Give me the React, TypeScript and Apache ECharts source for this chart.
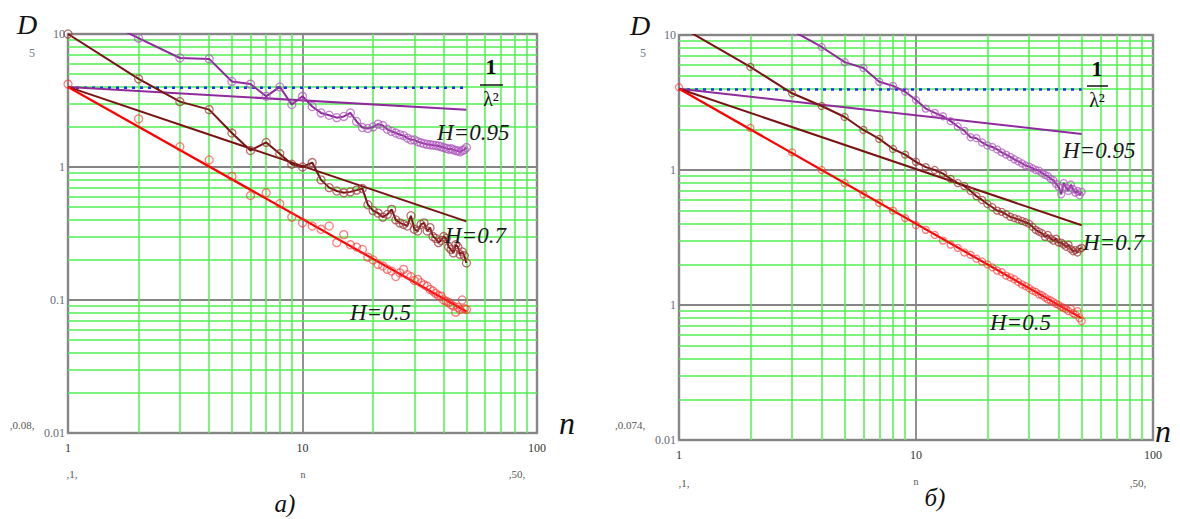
import React, { useEffect, useRef } from "react";
import * as echarts from "echarts";

// ---------- data ----------
const N = [1, 2, 3, 4, 5, 6, 7, 8, 9, 10, 11, 12, 13, 14, 15, 16, 17, 18, 19, 20,
  21, 22, 23, 24, 25, 26, 27, 28, 29, 30, 31, 32, 33, 34, 35, 36, 37, 38, 39, 40,
  41, 42, 43, 44, 45, 46, 47, 48, 49, 50];

// panel a)
const A_H05 = [4.2, 2.3, 1.42, 1.13, 0.85, 0.61, 0.64, 0.53, 0.42, 0.38,
  0.36, 0.34, 0.36, 0.27, 0.31, 0.26, 0.25, 0.24, 0.21, 0.2,
  0.185, 0.18, 0.17, 0.165, 0.15, 0.16, 0.17, 0.155, 0.15, 0.14,
  0.143, 0.135, 0.13, 0.127, 0.12, 0.117, 0.112, 0.108, 0.107, 0.1,
  0.098, 0.096, 0.092, 0.09, 0.081, 0.088, 0.085, 0.1, 0.086, 0.085];
const A_H07 = [10, 4.6, 3.1, 2.7, 1.8, 1.33, 1.53, 1.26, 1.05, 1.0,
  1.08, 0.8, 0.7, 0.66, 0.64, 0.65, 0.67, 0.69, 0.52, 0.47,
  0.45, 0.42, 0.44, 0.48, 0.4, 0.38, 0.37, 0.36, 0.43, 0.34,
  0.33, 0.37, 0.38, 0.33, 0.35, 0.3, 0.29, 0.27, 0.28, 0.3,
  0.29, 0.25, 0.24, 0.226, 0.26, 0.25, 0.22, 0.23, 0.215, 0.19];
const A_H095 = [17, 9.3, 6.6, 6.5, 4.4, 4.2, 3.4, 4.0, 2.95, 3.4,
  2.85, 2.55, 2.45, 2.35, 2.4, 2.55, 2.2, 1.98, 1.95, 2.0,
  2.1, 2.05, 1.92, 1.85, 1.8, 1.75, 1.72, 1.65, 1.6, 1.6,
  1.55, 1.52, 1.5, 1.48, 1.47, 1.46, 1.45, 1.44, 1.42, 1.4,
  1.38, 1.36, 1.37, 1.35, 1.33, 1.32, 1.3, 1.33, 1.35, 1.4];

// panel б)
const B_H05 = [4.1, 2.05, 1.35, 1.0, 0.8, 0.66, 0.57, 0.5, 0.44, 0.39,
  0.36, 0.33, 0.3, 0.28, 0.265, 0.245, 0.235, 0.22, 0.21, 0.2,
  0.19, 0.18, 0.175, 0.165, 0.16, 0.155, 0.148, 0.142, 0.138, 0.133,
  0.128, 0.125, 0.12, 0.118, 0.114, 0.11, 0.108, 0.105, 0.102, 0.1,
  0.097, 0.095, 0.093, 0.09, 0.094, 0.087, 0.085, 0.09, 0.08, 0.076];
const B_H07 = [11.7, 5.8, 3.7, 2.98, 2.47, 1.98, 1.7, 1.43, 1.3, 1.15,
  1.05, 1.0, 0.94, 0.86, 0.8, 0.76, 0.7, 0.64, 0.6, 0.56,
  0.53, 0.5, 0.49, 0.47, 0.45, 0.44, 0.43, 0.42, 0.41, 0.4,
  0.38, 0.36, 0.35, 0.34, 0.32, 0.33, 0.31, 0.3, 0.31, 0.29,
  0.29, 0.28, 0.27, 0.28, 0.26, 0.25, 0.255, 0.245, 0.26, 0.265];
const B_H095 = [22, 15, 10.8, 8.15, 6.3, 5.7, 4.5, 4.2, 3.8, 3.3,
  2.85, 2.65, 2.5, 2.3, 2.1, 1.95, 1.75, 1.72, 1.6, 1.52,
  1.48, 1.42, 1.35, 1.3, 1.25, 1.2, 1.16, 1.12, 1.08, 1.06,
  1.03, 1.0, 0.99, 0.95, 0.92, 0.9, 0.86, 0.84, 0.79, 0.75,
  0.66, 0.8, 0.74, 0.7, 0.78, 0.72, 0.68, 0.7, 0.65, 0.69];

// fitted straight lines (endpoints at n = 1 and n = 50)
const FIT_N = [1, 50];
const A_FIT_H05 = [4, 0.082];
const A_FIT_H07 = [4, 0.39];
const A_FIT_H095 = [4, 2.69];
const B_FIT_H05 = [4, 0.08];
const B_FIT_H07 = [4, 0.39];
const B_FIT_H095 = [4, 1.85];
const INV_LAMBDA2 = [3.95, 3.95];

// ticks
const X_MINOR = [2, 3, 4, 5, 6, 7, 8, 9, 20, 30, 40, 50, 60, 70, 80, 90];
const Y_MINOR = [0.02, 0.03, 0.04, 0.05, 0.06, 0.07, 0.08, 0.09,
  0.2, 0.3, 0.4, 0.5, 0.6, 0.7, 0.8, 0.9, 2, 3, 4, 5, 6, 7, 8, 9];
const X_TICKS = ["1", "10", "100"];
const Y_TICKS_A = ["0.01", "0.1", "1", "10"];
const Y_TICKS_B = ["0.01", "1", "1", "10"];

// ---------- style ----------
const SERIF = "Liberation Serif";
const GREEN = "#52ee52";
const RED = "#ff0000";
const BROWN = "#7a1212";
const PURPLE = "#8f2a9c";
const BLUE = "#1b2dff";

const pairs = (xs: number[], ys: number[]) => ys.map((y, i) => [xs[i], y]);

function panelSeries(gi: number, h05: number[], h07: number[], h095: number[],
  f05: number[], f07: number[], f095: number[], ms: number) {
  const ax = { xAxisIndex: gi, yAxisIndex: gi };
  return [
    {
      ...ax, type: "line", data: [], z: 1, silent: true,
      markLine: {
        z: 1, silent: true, symbol: ["none", "none"], label: { show: false },
        lineStyle: { color: GREEN, width: 1.5, type: "solid" },
        emphasis: { disabled: true },
        data: [...X_MINOR.map((v) => ({ xAxis: v })), ...Y_MINOR.map((v) => ({ yAxis: v }))],
      },
    },
    { ...ax, type: "line", data: pairs(FIT_N, INV_LAMBDA2), symbol: "none", z: 3,
      lineStyle: { color: BLUE, width: 2.5, type: [3, 5] } },
    { ...ax, type: "line", data: pairs(FIT_N, f095), symbol: "none", z: 3,
      lineStyle: { color: PURPLE, width: 2 } },
    { ...ax, type: "line", data: pairs(FIT_N, f07), symbol: "none", z: 3,
      lineStyle: { color: BROWN, width: 2 } },
    { ...ax, type: "line", data: pairs(FIT_N, f05), symbol: "none", z: 3,
      lineStyle: { color: RED, width: 2.2 } },
    { ...ax, type: "scatter", data: pairs(N, h05), symbol: "circle", symbolSize: ms, z: 4,
      itemStyle: { color: "rgba(0,0,0,0)", borderColor: "rgba(255,50,50,0.8)", borderWidth: 1.3 } },
    { ...ax, type: "line", data: pairs(N, h07), symbol: "circle", showSymbol: true, symbolSize: ms, z: 4,
      itemStyle: { color: "rgba(0,0,0,0)", borderColor: "rgba(160,60,60,0.75)", borderWidth: 1.3 },
      lineStyle: { color: BROWN, width: 2 } },
    { ...ax, type: "line", data: pairs(N, h095), symbol: "circle", showSymbol: true, symbolSize: ms, z: 4,
      itemStyle: { color: "rgba(0,0,0,0)", borderColor: "rgba(175,90,190,0.75)", borderWidth: 1.3 },
      lineStyle: { color: PURPLE, width: 2 } },
  ];
}

function xAxisCfg(gi: number) {
  return {
    type: "log", logBase: 10, gridIndex: gi, min: 1, max: 100,
    axisLine: { show: false }, axisTick: { show: false },
    splitLine: { show: true, lineStyle: { color: "#858585", width: 1.8 } },
    axisLabel: { color: "#333", fontFamily: SERIF, fontSize: 12, margin: 9,
      showMinLabel: true, showMaxLabel: true,
      formatter: (_v: number, i: number) => X_TICKS[i] },
  };
}
function yAxisCfg(gi: number, labels: string[]) {
  return {
    type: "log", logBase: 10, gridIndex: gi, min: 0.01, max: 10,
    axisLine: { show: false }, axisTick: { show: false },
    splitLine: { show: true, lineStyle: { color: "#858585", width: 1.8 } },
    axisLabel: { color: "#666a78", fontFamily: SERIF, fontSize: 12, margin: 3,
      showMinLabel: true, showMaxLabel: true,
      formatter: (_v: number, i: number) => labels[i] },
  };
}

function txt(x: number, y: number, text: string, size: number, opts: any = {}) {
  const align = opts.align || "center";
  return { type: "text", x, y, z: 10, silent: true,
    style: { text, fontFamily: SERIF, fontSize: size, fontStyle: opts.italic ? "italic" : "normal",
      fontWeight: opts.bold ? "bold" : "normal", fill: opts.fill || "#111",
      textAlign: align, textVerticalAlign: "middle", align, verticalAlign: "middle" } };
}
function bar(x1: number, x2: number, y: number) {
  return { type: "line", z: 10, silent: true, shape: { x1, y1: y, x2, y2: y }, style: { stroke: "#111", lineWidth: 1.5 } };
}

const IT = { italic: true };
const HL = { italic: true, align: "left", fill: "#1a1a1a" };
const GR = { fill: "#555" };

const graphics = [
  // panel a)
  txt(27, 24, "D", 28, IT),
  txt(32, 53, "5", 12, { fill: "#6d7a8c" }),
  txt(22, 425, ",0.08,", 11, GR),
  txt(567, 423, "n", 32, IT),
  txt(72, 474, ",1,", 11, GR),
  txt(303, 474, "n", 10, GR),
  txt(517, 474, ",50,", 11, GR),
  txt(285, 503, "а)", 25, IT),
  txt(437, 132, "H=0.95", 23, HL),
  txt(445, 235, "H=0.7", 23, HL),
  txt(350, 312, "H=0.5", 23, HL),
  txt(491, 66, "1", 22, { bold: true }),
  bar(480, 503, 85),
  txt(491, 99, "λ²", 20),
  // panel б)
  txt(640, 25, "D", 28, IT),
  txt(643, 53, "5", 12, { fill: "#6d7a8c" }),
  txt(630, 425, ",0.074,", 11, GR),
  txt(1163, 431, "n", 32, IT),
  txt(684, 483, ",1,", 11, GR),
  txt(916, 481, "n", 10, GR),
  txt(1138, 483, ",50,", 11, GR),
  txt(935, 497, "б)", 25, IT),
  txt(1063, 150, "H=0.95", 23, HL),
  txt(1083, 242, "H=0.7", 23, HL),
  txt(990, 322, "H=0.5", 23, HL),
  txt(1097, 68, "1", 22, { bold: true }),
  bar(1087, 1108, 86),
  txt(1097, 100, "λ²", 20),
];

const option = {
  animation: false,
  backgroundColor: "#ffffff",
  grid: [
    { left: 68, top: 34, width: 469, height: 399, show: true, borderColor: "#9a9a9a", borderWidth: 2.5, backgroundColor: "transparent" },
    { left: 679, top: 35, width: 474, height: 405, show: true, borderColor: "#9a9a9a", borderWidth: 2.5, backgroundColor: "transparent" },
  ],
  xAxis: [xAxisCfg(0), xAxisCfg(1)],
  yAxis: [yAxisCfg(0, Y_TICKS_A), yAxisCfg(1, Y_TICKS_B)],
  series: [
    ...panelSeries(0, A_H05, A_H07, A_H095, A_FIT_H05, A_FIT_H07, A_FIT_H095, 8),
    ...panelSeries(1, B_H05, B_H07, B_H095, B_FIT_H05, B_FIT_H07, B_FIT_H095, 7),
  ],
  graphic: graphics,
};

export default function App() {
  const ref = useRef<HTMLDivElement>(null);
  useEffect(() => {
    const chart = echarts.init(ref.current as HTMLDivElement, null, { renderer: "svg" });
    chart.setOption(option as any);
    return () => chart.dispose();
  }, []);
  return (
    <div
      ref={ref}
      style={{ position: "fixed", left: 0, top: 0, width: 1180, height: 519, background: "#fff" }}
    />
  );
}
